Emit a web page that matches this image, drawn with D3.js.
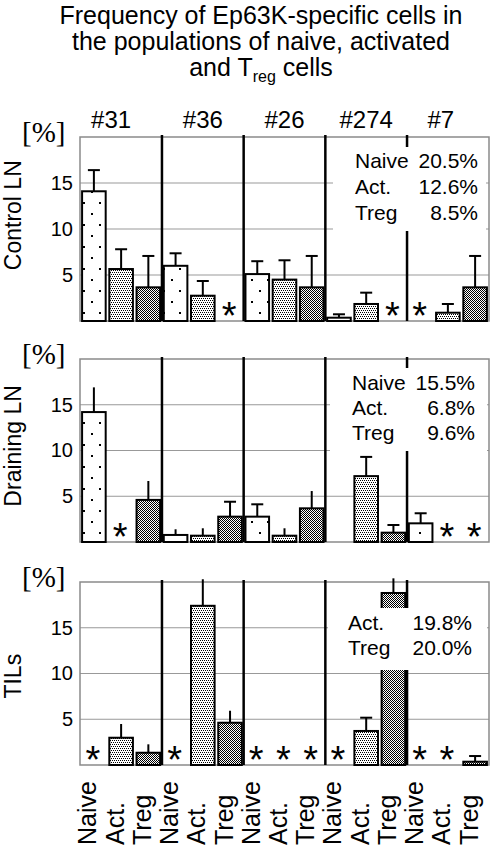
<!DOCTYPE html>
<html>
<head>
<meta charset="utf-8">
<script src="https://cdn.jsdelivr.net/npm/d3@7"></script>
<style>
  html, body { margin: 0; padding: 0; background: #fff; }
  svg { display: block; }
  text { font-family: "Liberation Sans", Arial, Helvetica, sans-serif; fill: #000; }
</style>
</head>
<body>
<svg id="chart" width="498" height="852"></svg>
<script>
// ---------------- data ----------------
const groups = ["#31", "#36", "#26", "#274", "#7"];
const cellTypes = ["Naive", "Act.", "Treg"];
const panelNames = ["Control LN", "Draining LN", "TILs"];
const yTicks = [5, 10, 15];
const titleLines = ["Frequency of Ep63K-specific cells in", "the populations of naive, activated"];

// 15 values per panel (group x cell type); null = "*" (not detected)
const controlLN    = [14.1, 5.65, 3.66,  6.0, 2.75, null,  5.1, 4.5, 3.66,  0.36, 1.85, null,  null, 0.9, 3.66];
const controlLNErr = [16.4, 7.8, 7.07,   7.36, 4.35, null, 6.5, 6.6, 7.07,  0.73, 3.08, null,  null, 1.85, 7.07];
const controlLNCap = [1,1,1, 1,1,0, 1,1,1, 1,1,0, 0,1,1];

const drainingLN    = [14.2, null, 4.6,  0.77, 0.69, 2.77,  2.77, 0.69, 3.68,  0, 7.2, 1.02,  2.04, null, null];
const drainingLNErr = [16.9, null, 6.67, 1.39, 1.5, 4.4,    4.12, 1.5, 5.57,   0, 9.3, 1.86,  3.14, null, null];
const drainingLNCap = [0,0,0, 0,0,1, 1,0,0, 0,1,1, 1,0,0];

const tils    = [null, 2.98, 1.34,  null, 17.4, 4.62,  null, null, null,  null, 3.72, 18.8,  null, null, 0.36];
const tilsErr = [null, 4.48, 2.26,  null, 20.3, 5.93,  null, null, null,  null, 5.17, 20.4,  null, null, 0.98];
const tilsCap = [0,0,0, 0,0,0, 0,0,0, 0,1,0, 0,0,1];

const noteControl  = [["Naive", "20.5%"], ["Act.", "12.6%"], ["Treg", "8.5%"]];
const noteDraining = [["Naive", "15.5%"], ["Act.", "6.8%"], ["Treg", "9.6%"]];
const noteTILs     = [["Act.", "19.8%"], ["Treg", "20.0%"]];

// ---------------- layout ----------------
const panels = [
  { name: panelNames[0], vals: controlLN, err: controlLNErr, cap: controlLNCap, note: noteControl,
    top: 137, bottom: 321, labelY: 11.5,
    box: { x0: 333, x1: 486, y0: 147, y1: 231, tx0: 355, tx1: 478, by: [168, 194, 220] } },
  { name: panelNames[1], vals: drainingLN, err: drainingLNErr, cap: drainingLNCap, note: noteDraining,
    top: 359, bottom: 542, labelY: 10.5,
    box: { x0: 330, x1: 487, y0: 368, y1: 451, tx0: 352, tx1: 475, by: [390, 415, 440] } },
  { name: panelNames[2], vals: tils, err: tilsErr, cap: tilsCap, note: noteTILs,
    top: 582, bottom: 765, labelY: 9.7,
    box: { x0: 328, x1: 487, y0: 608, y1: 670, tx0: 348, tx1: 472, by: [630, 655] } }
];
const plotLeft = 80, plotRight = 489;
const groupLabelDx = [-10, 0, 0, 0, -7];

const svg = d3.select("#chart");

// patterns
const defs = svg.append("defs");
const pN = defs.append("pattern").attr("id", "patNaive").attr("patternUnits", "userSpaceOnUse")
  .attr("width", 16).attr("height", 22);
pN.append("rect").attr("width", 16).attr("height", 22).attr("fill", "#fff");
pN.append("rect").attr("x", 3).attr("y", 4).attr("width", 2).attr("height", 2).attr("fill", "#000");
pN.append("rect").attr("x", 11).attr("y", 15).attr("width", 2).attr("height", 2).attr("fill", "#000");

const pA = defs.append("pattern").attr("id", "patAct").attr("patternUnits", "userSpaceOnUse")
  .attr("width", 4).attr("height", 4);
pA.append("rect").attr("width", 4).attr("height", 4).attr("fill", "#fff");
[[0,0],[2,0],[1,2],[3,2]].forEach(([x,y]) =>
  pA.append("rect").attr("x", x).attr("y", y).attr("width", 1).attr("height", 1).attr("fill", "#000"));

const pT = defs.append("pattern").attr("id", "patTreg").attr("patternUnits", "userSpaceOnUse")
  .attr("width", 2).attr("height", 2);
pT.append("rect").attr("width", 2).attr("height", 2).attr("fill", "#fff");
pT.append("rect").attr("x", 0).attr("y", 0).attr("width", 1).attr("height", 1).attr("fill", "#000");
pT.append("rect").attr("x", 1).attr("y", 1).attr("width", 1).attr("height", 1).attr("fill", "#000");
const patFor = { "Naive": "url(#patNaive)", "Act.": "url(#patAct)", "Treg": "url(#patTreg)" };

// title
const title = svg.append("g").attr("text-anchor", "middle").style("font-size", "25px");
titleLines.forEach((t, i) => title.append("text").attr("x", 261).attr("y", 24 + i * 26).text(t));
const t3 = title.append("text").attr("x", 261).attr("y", 76);
t3.append("tspan").text("and T");
t3.append("tspan").attr("dy", 6).style("font-size", "16px").text("reg");
t3.append("tspan").attr("dy", -6).text(" cells");

// x scale
const keys = [];
groups.forEach(g => cellTypes.forEach(c => keys.push(g + "|" + c)));
const x = d3.scaleBand().domain(keys).range([plotLeft, plotRight]).paddingInner(0.06).paddingOuter(0.04);
const bw = x.bandwidth();

// group labels
groups.forEach((g, gi) => {
  const x0 = x(g + "|" + cellTypes[0]), x1 = x(g + "|" + cellTypes[2]) + bw;
  svg.append("text").attr("x", (x0 + x1) / 2 + groupLabelDx[gi]).attr("y", 128)
    .attr("text-anchor", "middle").style("font-size", "24px").text(g);
});

panels.forEach(p => {
  const y = d3.scaleLinear().domain([0, 20]).range([p.bottom, p.top]);
  const g = svg.append("g");

  // grid
  g.selectAll(".grid").data(yTicks).join("line")
    .attr("x1", plotLeft).attr("x2", plotRight)
    .attr("y1", d => y(d)).attr("y2", d => y(d))
    .attr("stroke", "#999").attr("stroke-width", 1);
  // frame
  g.append("rect").attr("x", plotLeft).attr("y", y(20)).attr("width", plotRight - plotLeft)
    .attr("height", y(0) - y(20)).attr("fill", "none").attr("stroke", "#8a8a8a").attr("stroke-width", 1.5);

  // tick labels via axis
  const ax = g.append("g").attr("transform", `translate(${plotLeft - 7},0)`)
    .call(d3.axisLeft(y).tickValues(yTicks).tickSize(0).tickPadding(0));
  ax.select(".domain").remove();
  ax.selectAll("text").style("font-size", "20px").attr("font-family", null);

  // [%]
  g.append("text").attr("x", 22).attr("y", y(20) + 5)
    .style("font-family", "'Liberation Serif', 'Times New Roman', serif").style("font-size", "29px").text("[%]");
  // panel name
  g.append("text").attr("transform", `translate(21,${y(p.labelY)}) rotate(-90)`)
    .attr("text-anchor", "middle").style("font-size", "23px").text(p.name);

  const rows = keys.map((k, i) => ({ k, type: k.split("|")[1], v: p.vals[i], e: p.err[i], cap: p.cap[i] }));

  // bars
  g.selectAll(".bar").data(rows.filter(d => d.v !== null && d.v > 0)).join("rect")
    .attr("x", d => x(d.k) + 1).attr("width", bw - 2)
    .attr("y", d => y(d.v)).attr("height", d => y(0) - y(d.v))
    .attr("fill", d => patFor[d.type]).attr("stroke", "#000").attr("stroke-width", 2);

  // error bars
  const eb = rows.filter(d => d.v !== null && d.e !== null && d.e > d.v);
  g.selectAll(".err").data(eb).join("line")
    .attr("x1", d => x(d.k) + bw / 2).attr("x2", d => x(d.k) + bw / 2)
    .attr("y1", d => y(d.v)).attr("y2", d => y(d.e))
    .attr("stroke", "#000").attr("stroke-width", 2);
  g.selectAll(".cap").data(eb.filter(d => d.cap)).join("line")
    .attr("x1", d => x(d.k) + bw / 2 - 6).attr("x2", d => x(d.k) + bw / 2 + 6)
    .attr("y1", d => y(d.e)).attr("y2", d => y(d.e))
    .attr("stroke", "#000").attr("stroke-width", 2);

  // group separators
  for (let gi = 0; gi < groups.length - 1; gi++) {
    const a = x(groups[gi] + "|" + cellTypes[2]) + bw;
    const b = x(groups[gi + 1] + "|" + cellTypes[0]);
    const sx = (a + b) / 2;
    g.append("line").attr("x1", sx).attr("x2", sx).attr("y1", y(20) - 2).attr("y2", y(0))
      .attr("stroke", "#000").attr("stroke-width", 2.5);
  }

  // note box
  const bx = p.box;
  g.append("rect").attr("x", bx.x0).attr("y", bx.y0).attr("width", bx.x1 - bx.x0)
    .attr("height", bx.y1 - bx.y0).attr("fill", "#fff");
  p.note.forEach((n, i) => {
    g.append("text").attr("x", bx.tx0).attr("y", bx.by[i]).style("font-size", "21px").text(n[0]);
    g.append("text").attr("x", bx.tx1).attr("y", bx.by[i]).attr("text-anchor", "end")
      .style("font-size", "21px").text(n[1]);
  });

  // asterisks for not-detected
  g.selectAll(".ast").data(rows.filter(d => d.v === null)).join("text")
    .attr("x", d => x(d.k) + bw / 2 - 1).attr("y", y(0) + 8)
    .attr("text-anchor", "middle").style("font-size", "38px").text("*");
});

// x labels
svg.append("g").selectAll("text").data(keys).join("text")
  .attr("transform", d => `translate(${x(d) + bw / 2 + 2.5},845) rotate(-90)`)
  .attr("text-anchor", "start").style("font-size", "25px")
  .text(d => d.split("|")[1]);
</script>
</body>
</html>
